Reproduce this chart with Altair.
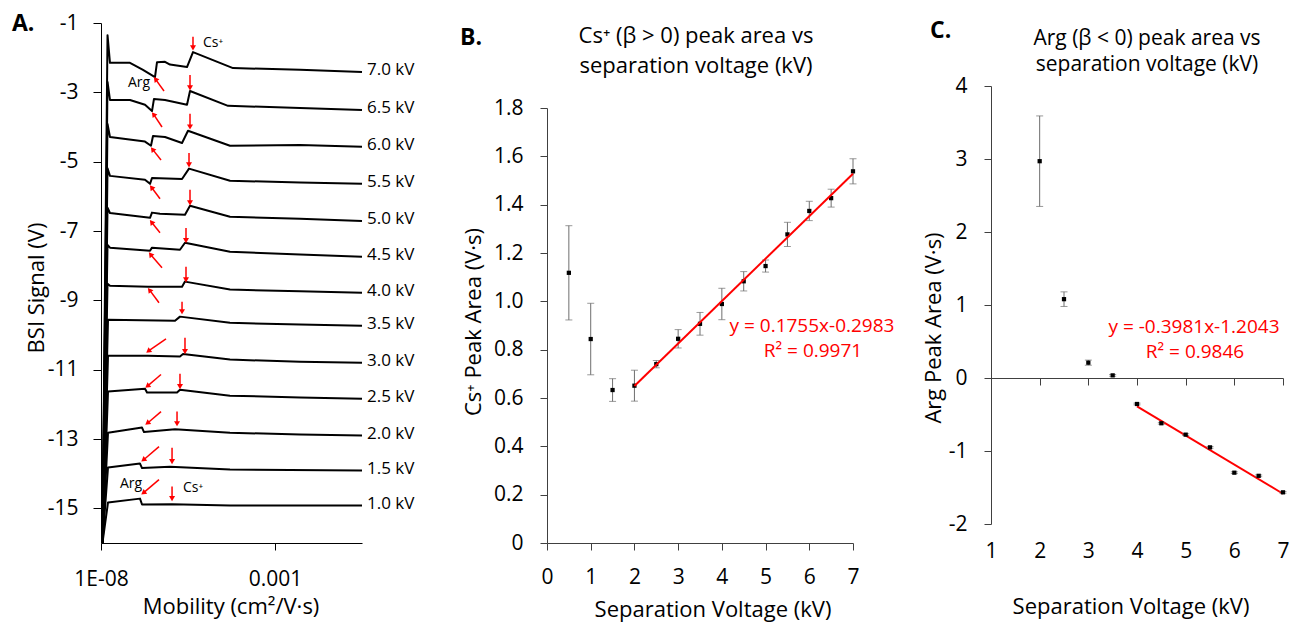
import altair as alt
import pandas as pd

FONT = "Open Sans"

# ---------------- Panel A: BSI traces (mobility, signal) ----------------
kv_names = ["7.0 kV", "6.5 kV", "6.0 kV", "5.5 kV", "5.0 kV", "4.5 kV", "4.0 kV",
            "3.5 kV", "3.0 kV", "2.5 kV", "2.0 kV", "1.5 kV", "1.0 kV"]

trace_70 = [(1.10e-8, -16.0), (1.54e-8, -1.35), (1.81e-8, -2.15), (6.81e-8, -2.15), (1.61e-7, -2.35),
            (3.56e-7, -2.56), (4.07e-7, -2.13), (6.90e-7, -2.12), (9.61e-7, -2.20), (2.96e-6, -2.27),
            (4.40e-6, -1.84), (6.21e-5, -2.30), (5.23e-3, -2.35), (0.316, -2.41)]
trace_65 = [(1.10e-8, -16.0), (1.54e-8, -2.70), (1.81e-8, -3.22), (6.81e-8, -3.22), (1.84e-7, -3.36),
            (2.92e-7, -3.54), (3.33e-7, -3.19), (6.90e-7, -3.22), (2.96e-6, -3.36), (3.61e-6, -2.96),
            (4.46e-5, -3.39), (5.23e-3, -3.45), (0.316, -3.51)]
trace_60 = [(1.10e-8, -16.0), (1.54e-8, -3.91), (1.81e-8, -4.29), (1.84e-7, -4.42), (2.73e-7, -4.54),
            (3.12e-7, -4.26), (6.90e-7, -4.29), (2.13e-6, -4.46), (3.16e-6, -4.11), (5.09e-5, -4.54),
            (5.23e-3, -4.52), (0.316, -4.57)]
trace_55 = [(1.10e-8, -16.0), (1.54e-8, -5.19), (1.81e-8, -5.41), (1.84e-7, -5.52), (2.56e-7, -5.64),
            (2.92e-7, -5.47), (2.13e-6, -5.50), (3.38e-6, -5.20), (5.09e-5, -5.55), (5.23e-3, -5.60),
            (0.316, -5.64)]
trace_50 = [(1.10e-8, -16.0), (1.54e-8, -6.33), (1.81e-8, -6.48), (2.56e-7, -6.62), (2.92e-7, -6.47),
            (4.96e-7, -6.50), (2.59e-6, -6.53), (3.61e-6, -6.27), (5.09e-5, -6.59), (5.23e-3, -6.65),
            (0.316, -6.71)]
trace_45 = [(1.10e-8, -16.0), (1.54e-8, -7.40), (1.81e-8, -7.48), (2.56e-7, -7.57), (2.92e-7, -7.48),
            (1.86e-6, -7.54), (2.59e-6, -7.34), (5.09e-5, -7.60), (5.23e-3, -7.68), (0.316, -7.74)]
trace_40 = [(1.10e-8, -16.0), (1.54e-8, -8.52), (1.81e-8, -8.58), (2.24e-7, -8.61), (2.13e-6, -8.61),
            (2.59e-6, -8.46), (5.09e-5, -8.69), (5.23e-3, -8.74), (0.316, -8.78)]
trace_35 = [(1.10e-8, -16.0), (1.59e-8, -9.56), (1.34e-6, -9.59), (1.86e-6, -9.47), (5.09e-5, -9.65),
            (5.23e-3, -9.70), (0.316, -9.73)]
trace_30 = [(1.10e-8, -16.0), (1.59e-8, -10.60), (2.24e-7, -10.60), (1.86e-6, -10.62), (2.27e-6, -10.55),
            (5.09e-5, -10.71), (5.23e-3, -10.77), (0.316, -10.80)]
trace_25 = [(1.10e-8, -16.0), (1.59e-8, -11.63), (1.84e-7, -11.55), (2.10e-7, -11.66), (1.53e-6, -11.66),
            (1.86e-6, -11.58), (5.09e-5, -11.75), (5.23e-3, -11.80), (0.316, -11.84)]
trace_20 = [(1.10e-8, -16.0), (1.59e-8, -12.82), (1.51e-7, -12.67), (1.72e-7, -12.80), (1.34e-6, -12.72),
            (5.09e-5, -12.82), (5.23e-3, -12.87), (0.316, -12.90)]
trace_15 = [(1.10e-8, -16.0), (1.59e-8, -13.82), (1.32e-7, -13.71), (1.51e-7, -13.84), (9.61e-7, -13.80),
            (5.09e-5, -13.88), (0.316, -13.91)]
trace_10 = [(1.10e-8, -16.0), (1.59e-8, -14.83), (1.32e-7, -14.72), (1.51e-7, -14.89), (1.10e-6, -14.88),
            (5.09e-5, -14.92), (0.316, -14.92)]

traces = [trace_70, trace_65, trace_60, trace_55, trace_50, trace_45, trace_40,
          trace_35, trace_30, trace_25, trace_20, trace_15, trace_10]

# Cs+ arrows (vertical, pointing down)
cs_arrow_m = [4.40e-6, 3.61e-6, 3.61e-6, 3.38e-6, 3.61e-6, 2.77e-6, 2.77e-6,
              2.13e-6, 2.59e-6, 1.86e-6, 1.53e-6, 1.10e-6, 1.10e-6]
cs_arrow_tail = [-1.40, -2.50, -3.62, -4.75, -5.81, -6.91, -8.03, -9.04, -10.08, -11.12, -12.21, -13.25, -14.37]
cs_arrow_head = [-1.72, -2.87, -4.00, -5.09, -6.19, -7.28, -8.41, -9.33, -10.48, -11.49, -12.56, -13.65, -14.72]

# Arg arrows (diagonal)
arg_tail_m = [6.46e-7, 5.66e-7, 5.30e-7, 4.96e-7, 4.96e-7, 5.66e-7, 4.64e-7, 7.38e-7, 5.30e-7, 5.30e-7, 4.64e-7, 4.64e-7]
arg_tail_s = [-2.96, -4.00, -4.95, -6.07, -7.05, -8.06, -9.07, -10.11, -11.14, -12.21, -13.22, -14.17]
arg_head_m = [3.80e-7, 3.33e-7, 3.12e-7, 2.92e-7, 2.92e-7, 2.73e-7, 2.56e-7, 2.39e-7, 2.24e-7, 2.24e-7, 1.72e-7, 1.72e-7]
arg_head_s = [-2.64, -3.65, -4.66, -5.76, -6.76, -7.69, -8.72, -10.45, -11.46, -12.53, -13.59, -14.54]
arg_dir = ["upleft"] * 7 + ["downleft"] * 5

# Arrow labels
ann_text = ["Cs\u207a", "Arg", "Arg", "Cs\u207a"]
ann_m = [8.53e-6, 5.97e-8, 3.52e-8, 2.27e-6]
ann_s = [-1.58, -2.73, -14.31, -14.40]

# ---------------- Panel B: Cs+ peak area ----------------
volt_B = [0.5, 1, 1.5, 2, 2.5, 3, 3.5, 4, 4.5, 5, 5.5, 6, 6.5, 7]
area_B = [1.118, 0.844, 0.633, 0.651, 0.740, 0.845, 0.907, 0.989, 1.083, 1.146, 1.277, 1.374, 1.427, 1.538]
err_B = [0.195, 0.148, 0.047, 0.064, 0.015, 0.038, 0.047, 0.065, 0.040, 0.025, 0.050, 0.040, 0.037, 0.052]

# ---------------- Panel C: Arg peak area ----------------
volt_C = [2, 2.5, 3, 3.5, 4, 4.5, 5, 5.5, 6, 6.5, 7]
area_C = [2.97, 1.08, 0.21, 0.036, -0.356, -0.62, -0.776, -0.95, -1.297, -1.34, -1.566]
err_C = [0.62, 0.10, 0.035, 0.012, 0.012, 0.012, 0.012, 0.012, 0.012, 0.012, 0.012]

# ======================= build tables =======================
rows = []
for name, tr in zip(kv_names, traces):
    for i, (m, s) in enumerate(tr):
        rows.append({"kv": name, "o": i, "m": m, "s": s})
df_tr = pd.DataFrame(rows)
df_kv = pd.DataFrame({"kv": kv_names, "m": [tr[-1][0] for tr in traces], "s": [tr[-1][1] for tr in traces]})
df_cs = pd.DataFrame({"m": cs_arrow_m, "s1": cs_arrow_tail, "s2": cs_arrow_head})
df_arg = pd.DataFrame({"m1": arg_tail_m, "s1": arg_tail_s, "m2": arg_head_m, "s2": arg_head_s, "dir": arg_dir})
df_ann = pd.DataFrame({"t": ann_text, "m": ann_m, "s": ann_s})

df_B = pd.DataFrame({"v": volt_B, "area": area_B,
                     "lo": [a - e for a, e in zip(area_B, err_B)],
                     "hi": [a + e for a, e in zip(area_B, err_B)]})
df_C = pd.DataFrame({"v": volt_C, "area": area_C,
                     "lo": [a - e for a, e in zip(area_C, err_C)],
                     "hi": [a + e for a, e in zip(area_C, err_C)]})


def anchor(x0, x1, y0, y1):
    return alt.Chart(pd.DataFrame({"a": [0]})).mark_rect(opacity=0).encode(
        x=alt.value(x0), x2=alt.value(x1), y=alt.value(y0), y2=alt.value(y1))


def label(text, x, y, size, color="black", weight="normal", align="left", angle=0):
    mk = dict(align=align, baseline="middle", fontSize=size, fontWeight=weight,
              color=color, font=FONT)
    if angle:
        mk["angle"] = angle
    return alt.Chart(pd.DataFrame({"t": [text]})).mark_text(**mk).encode(
        x=alt.value(x), y=alt.value(y), text="t:N")


H = 520          # common panel height (panel A's plot area)
TICK_FS = 21
TITLE_FS = 22
EQ_FS = 19

# ======================= Panel A =======================
WA = 261
xA = alt.X("m:Q", scale=alt.Scale(type="log", domain=[1e-8, 0.316], nice=False),
           axis=alt.Axis(values=[1e-8, 1e-3], labelExpr="datum.value < 1e-5 ? '1E-08' : '0.001'",
                         title=None, tickSize=7, labelPadding=18, labelFontSize=TICK_FS, labelFlush=False,
                         domainColor="black", tickColor="black", labelColor="black"))
yA = alt.Y("s:Q", scale=alt.Scale(domain=[-16, -1], nice=False, zero=False),
           axis=alt.Axis(values=[-1, -3, -5, -7, -9, -11, -13, -15], labelExpr="'' + datum.value",
                         title=None, tickSize=8, labelPadding=15, labelFontSize=TICK_FS,
                         domainColor="black", tickColor="black", labelColor="black"))

lines_A = alt.Chart(df_tr).mark_line(color="black", strokeWidth=2, strokeJoin="round").encode(
    x=xA, y=yA, detail="kv:N", order="o:Q")
kv_text = alt.Chart(df_kv).mark_text(align="left", baseline="middle", dx=5, dy=-2,
                                      fontSize=17, font=FONT, color="black").encode(
    x=alt.X("m:Q"), y=alt.Y("s:Q"), text="kv:N")
cs_shaft = alt.Chart(df_cs).mark_rule(color="red", strokeWidth=1.5).encode(
    x="m:Q", y="s1:Q", y2="s2:Q")
cs_head = alt.Chart(df_cs).mark_point(shape="triangle-down", filled=True, color="red",
                                      size=36, opacity=1).encode(x="m:Q", y="s2:Q")
arg_shaft = alt.Chart(df_arg).mark_rule(color="red", strokeWidth=1.5).encode(
    x="m1:Q", x2="m2:Q", y="s1:Q", y2="s2:Q")
arg_head_ul = alt.Chart(df_arg).transform_filter("datum.dir == 'upleft'").mark_point(
    shape="triangle", angle=322, filled=True, color="red", size=36, opacity=1).encode(x="m2:Q", y="s2:Q")
arg_head_dl = alt.Chart(df_arg).transform_filter("datum.dir == 'downleft'").mark_point(
    shape="triangle", angle=232, filled=True, color="red", size=36, opacity=1).encode(x="m2:Q", y="s2:Q")
ann_A = alt.Chart(df_ann).mark_text(align="left", baseline="middle", fontSize=14, font=FONT,
                                    color="black").encode(x="m:Q", y="s:Q", text="t:N")

panel_A = alt.layer(
    anchor(-101, 339, -23, 599),
    lines_A, kv_text, cs_shaft, cs_head, arg_shaft, arg_head_ul, arg_head_dl, ann_A,
    label("A.", -89, 1, 23, weight="bold"),
    label("BSI Signal (V)", -64, 265, TITLE_FS, align="center", angle=270),
    label("Mobility (cm\u00b2/V\u00b7s)", 130, 584, TITLE_FS, align="center"),
).properties(width=WA, height=H)

# ======================= Panel B =======================
# panel origin = canvas (547, 23)
WB = 306
AX = "#404040"
xB = alt.X("v:Q", scale=alt.Scale(domain=[0, 7], nice=False, zero=False),
           axis=alt.Axis(values=list(range(8)), title=None, tickSize=7, labelPadding=16,
                         labelFontSize=TICK_FS, labelFlush=False,
                         domainColor=AX, tickColor=AX, labelColor="black"))
yB = alt.Y("area:Q", scale=alt.Scale(domain=[0, 1.8], range=[520, 85], nice=False),
           axis=alt.Axis(values=[0, 0.2, 0.4, 0.6, 0.8, 1.0, 1.2, 1.4, 1.6, 1.8],
                         labelExpr="datum.value == 0 ? '0' : format(datum.value, '.1f')",
                         title=None, tickSize=7, labelPadding=17, labelFontSize=TICK_FS,
                         domainColor=AX, tickColor=AX, labelColor="black"))
err_color = "#6e6e6e"
stem_B = alt.Chart(df_B).mark_rule(color=err_color, strokeWidth=1).encode(x=xB, y=alt.Y("lo:Q"), y2="hi:Q")
cap_lo_B = alt.Chart(df_B).mark_tick(color=err_color, orient="horizontal", size=7, thickness=1).encode(x=xB, y=alt.Y("lo:Q"))
cap_hi_B = alt.Chart(df_B).mark_tick(color=err_color, orient="horizontal", size=7, thickness=1).encode(x=xB, y=alt.Y("hi:Q"))
pts_B = alt.Chart(df_B).mark_square(color="black", size=18, opacity=1).encode(x=xB, y=yB)
fit_B = alt.Chart(df_B).transform_filter("datum.v >= 2").transform_regression(
    "v", "area", extent=[2, 7]).mark_line(color="red", strokeWidth=2).encode(x=xB, y=alt.Y("area:Q"))

panel_B = alt.layer(
    anchor(-107, 358, -23, 599),
    stem_B, cap_lo_B, cap_hi_B, pts_B, fit_B,
    label("y = 0.1755x-0.2983", 265, 303, EQ_FS, color="red", align="center"),
    label("R\u00b2 = 0.9971", 266, 328, EQ_FS, color="red", align="center"),
    label("B.", -87, 15, 23, weight="bold"),
    label("Cs\u207a (\u03b2 > 0) peak area vs", 149, 13, TITLE_FS, align="center"),
    label("separation voltage (kV)", 149, 43, TITLE_FS, align="center"),
    label("Cs\u207a Peak Area (V\u00b7s)", -73, 299, TITLE_FS, align="center", angle=270),
    label("Separation Voltage (kV)", 166, 587, TITLE_FS, align="center"),
).properties(width=WB, height=H)

# ======================= Panel C =======================
# panel origin = canvas (991, 23); zero line at canvas 378
WC = 292
xC = alt.X("v:Q", scale=alt.Scale(domain=[1, 7], nice=False, zero=False),
           axis=alt.Axis(values=list(range(1, 8)), title=None, tickSize=7, offset=-165,
                         labelPadding=155, labelFontSize=TICK_FS, labelFlush=False,
                         domainColor=AX, tickColor=AX, labelColor="black"))
yC = alt.Y("area:Q", scale=alt.Scale(domain=[-2, 4], range=[501, 63], nice=False, zero=False),
           axis=alt.Axis(values=[-2, -1, 0, 1, 2, 3, 4], labelExpr="'' + datum.value",
                         title=None, tickSize=7, labelPadding=17, labelFontSize=TICK_FS,
                         domainColor=AX, tickColor=AX, labelColor="black"))
stem_C = alt.Chart(df_C).mark_rule(color=err_color, strokeWidth=1).encode(x=xC, y=alt.Y("lo:Q"), y2="hi:Q")
cap_lo_C = alt.Chart(df_C).mark_tick(color=err_color, orient="horizontal", size=7, thickness=1).encode(x=xC, y=alt.Y("lo:Q"))
cap_hi_C = alt.Chart(df_C).mark_tick(color=err_color, orient="horizontal", size=7, thickness=1).encode(x=xC, y=alt.Y("hi:Q"))
pts_C = alt.Chart(df_C).mark_square(color="black", size=18, opacity=1).encode(x=xC, y=yC)
fit_C = alt.Chart(df_C).transform_filter("datum.v >= 4").transform_regression(
    "v", "area", extent=[4, 7]).mark_line(color="red", strokeWidth=2).encode(x=xC, y=alt.Y("area:Q"))

panel_C = alt.layer(
    anchor(-86, 300, -23, 599),
    fit_C, stem_C, cap_lo_C, cap_hi_C, pts_C,
    label("y = -0.3981x-1.2043", 203, 304, EQ_FS, color="red", align="center"),
    label("R\u00b2 = 0.9846", 204, 329, EQ_FS, color="red", align="center"),
    label("C.", -61, 8, 23, weight="bold"),
    label("Arg (\u03b2 < 0) peak area vs", 156, 16, 21, align="center"),
    label("separation voltage (kV)", 156, 42, 21, align="center"),
    label("Arg Peak Area (V\u00b7s)", -57, 305, TITLE_FS, align="center", angle=270),
    label("Separation Voltage (kV)", 140, 584, TITLE_FS, align="center"),
).properties(width=WC, height=H)

chart = alt.hconcat(panel_A, panel_B, panel_C, spacing=0).properties(
    padding=0, background="white"
).configure_view(stroke=None).configure_axis(
    grid=False, labelFont=FONT, titleFont=FONT, labelFontWeight="normal"
).configure_text(font=FONT)

chart.save("out.html", embed_options={"renderer": "svg", "actions": False})
